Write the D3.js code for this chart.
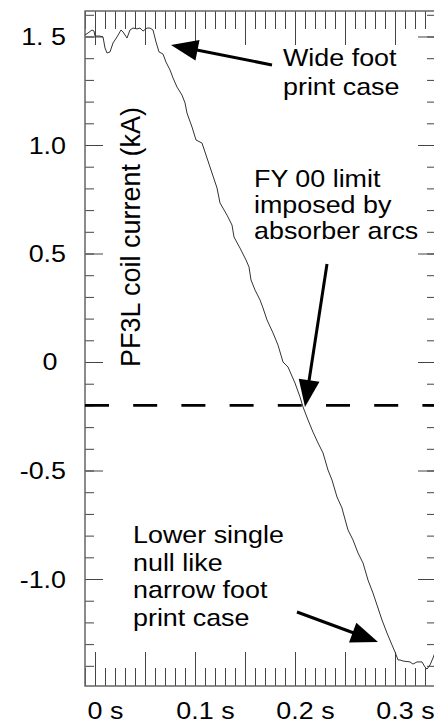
<!DOCTYPE html>
<html>
<head>
<meta charset="utf-8">
<script src="https://cdn.jsdelivr.net/npm/d3@7"></script>
<style>
body { margin: 0; background: #fff; }
text { font-family: "Liberation Sans", Arial, Helvetica, sans-serif; fill: #000; }
</style>
</head>
<body>
<div id="chart"></div>
<script>
// PF3L coil current trace (time in s, current in kA)
var timeS = [-0.010, -0.007, -0.003, -0.001, 0.000, 0.005, 0.008, 0.010, 0.012, 0.015,
    0.018, 0.022, 0.026, 0.028, 0.032, 0.035, 0.038, 0.042, 0.045, 0.048,
    0.052, 0.055, 0.058, 0.061, 0.064, 0.068, 0.071, 0.075, 0.078, 0.082,
    0.087, 0.090, 0.092, 0.097, 0.101, 0.107, 0.112, 0.117, 0.122, 0.125,
    0.132, 0.137, 0.139, 0.145, 0.151, 0.154, 0.156, 0.160, 0.165, 0.168,
    0.172, 0.178, 0.183, 0.188, 0.193, 0.200, 0.205, 0.208, 0.213, 0.218,
    0.223, 0.228, 0.233, 0.237, 0.242, 0.247, 0.248, 0.253, 0.258, 0.263,
    0.268, 0.273, 0.278, 0.282, 0.287, 0.292, 0.297, 0.300, 0.303, 0.305,
    0.308, 0.315, 0.318, 0.322, 0.327, 0.330, 0.332, 0.335, 0.338, 0.341];
var currentKA = [1.507, 1.516, 1.530, 1.525, 1.502, 1.502, 1.498, 1.447, 1.424, 1.429,
    1.470, 1.498, 1.530, 1.521, 1.493, 1.530, 1.539, 1.535, 1.539, 1.525,
    1.539, 1.539, 1.530, 1.475, 1.429, 1.419, 1.382, 1.346, 1.309, 1.267,
    1.230, 1.194, 1.147, 1.083, 1.023, 1.009, 0.940, 0.871, 0.802, 0.733,
    0.677, 0.631, 0.576, 0.525, 0.470, 0.438, 0.378, 0.332, 0.286, 0.249,
    0.194, 0.134, 0.078, 0.000, -0.023, -0.097, -0.161, -0.207, -0.267, -0.323,
    -0.373, -0.419, -0.498, -0.544, -0.622, -0.673, -0.691, -0.774, -0.820, -0.880,
    -0.926, -1.005, -1.065, -1.120, -1.189, -1.249, -1.304, -1.336, -1.373, -1.373,
    -1.378, -1.382, -1.392, -1.382, -1.382, -1.406, -1.415, -1.396, -1.364, -1.327];

var limitKA = -0.2;

var yTickValues = [1.5, 1.0, 0.5, 0, -0.5, -1.0];
var yTickLabels = ["1. 5", "1.0", "0.5", "0", "-0.5", "-1.0"];
var xTickValues = [0, 0.1, 0.2, 0.3];
var xTickLabels = ["0 s", "0.1 s", "0.2 s", "0.3 s"];

var yTitle = "PF3L coil current (kA)";
var wideNote = ["Wide foot", "print case"];
var limitNote = ["FY 00 limit", "imposed by", "absorber arcs"];
var lowerNote = ["Lower single", "null like", "narrow foot", "print case"];

var svgWidth = 434;
var svgHeight = 724;
var plot = { left: 85, top: 11, right: 436, bottom: 686 };
var stretch = 1.12;   // text in the picture is a bit wide

var svg = d3.select("#chart")
    .append("svg")
    .attr("width", svgWidth)
    .attr("height", svgHeight);

var x = d3.scaleLinear()
    .domain([-0.01, 0.341])
    .range([plot.left, plot.right]);

var y = d3.scaleLinear()
    .domain([-1.493, 1.6175])
    .range([plot.bottom, plot.top]);

var xMajor = d3.range(0, 7).map(i => i * 0.05);
var xMinor = d3.range(-1, 35).map(i => i / 100);
var yMinor = d3.range(-14, 17).map(i => i / 10);

function tickAxis(axis, values, size, tx, ty) {
    var g = svg.append("g")
        .attr("transform", `translate(${tx}, ${ty})`)
        .call(axis.tickValues(values).tickSize(size).tickSizeOuter(0).tickFormat(""));
    g.select(".domain").remove();
    g.selectAll("line").attr("stroke", "#444").attr("stroke-width", 1);
}

// ticks all point inward
tickAxis(d3.axisRight(y), yMinor, 9, plot.left, 0);
tickAxis(d3.axisRight(y), yTickValues, 18, plot.left, 0);
tickAxis(d3.axisLeft(y), yMinor, 9, plot.right, 0);
tickAxis(d3.axisLeft(y), yTickValues, 18, plot.right, 0);
tickAxis(d3.axisTop(x), xMinor, 18, 0, plot.bottom);
tickAxis(d3.axisTop(x), xMajor, 34, 0, plot.bottom);
tickAxis(d3.axisBottom(x), xMinor, 18, 0, plot.top);
tickAxis(d3.axisBottom(x), xMajor, 34, 0, plot.top);

// frame
svg.append("rect")
    .attr("x", plot.left)
    .attr("y", plot.top)
    .attr("width", plot.right - plot.left)
    .attr("height", plot.bottom - plot.top)
    .attr("fill", "none")
    .attr("stroke", "#666")
    .attr("stroke-width", 1.5);

svg.append("clipPath").attr("id", "clip")
    .append("rect")
    .attr("x", plot.left)
    .attr("y", plot.top)
    .attr("width", plot.right - plot.left)
    .attr("height", plot.bottom - plot.top);

// limit line
svg.append("line")
    .attr("x1", plot.left)
    .attr("x2", plot.right)
    .attr("y1", y(limitKA))
    .attr("y2", y(limitKA))
    .attr("stroke", "#000")
    .attr("stroke-width", 2.6)
    .attr("stroke-dasharray", "24,24.2");

// current trace
var line = d3.line()
    .x((d, i) => x(timeS[i]))
    .y(d => y(d));

svg.append("path")
    .datum(currentKA)
    .attr("clip-path", "url(#clip)")
    .attr("d", line)
    .attr("fill", "none")
    .attr("stroke", "#333")
    .attr("stroke-width", 1);

function stretchText(str, tx, ty, anchor) {
    return svg.append("text")
        .attr("transform", `translate(${tx}, ${ty}) scale(${stretch}, 1)`)
        .attr("text-anchor", anchor || "start")
        .style("font-size", "24px")
        .text(str);
}

// y tick labels
yTickValues.forEach(function(v, i) {
    if (yTickLabels[i] === "0") {
        stretchText(yTickLabels[i], 50, y(v) + 8, "middle");
    } else {
        stretchText(yTickLabels[i], 66, y(v) + 8.5, "end");
    }
});

// x tick labels, the number sits centred on its tick
xTickValues.forEach(function(v, i) {
    var t = stretchText(xTickLabels[i], 0, 0, "start");
    var n = xTickLabels[i].indexOf(" ");
    var w = t.node().getSubStringLength(0, n) * stretch;
    t.attr("transform", `translate(${x(v) - w / 2}, 719) scale(${stretch}, 1)`);
});

// y title
svg.append("text")
    .attr("transform", "translate(140, 367) rotate(-90)")
    .style("font-size", "27px")
    .text(yTitle);

// notes
wideNote.forEach((s, i) => stretchText(s, 283, 66 + i * 29));
limitNote.forEach((s, i) => stretchText(s, 254, 187 + i * 26));
lowerNote.forEach((s, i) => stretchText(s, 133, 543 + i * 27.7));

// arrows: tail and tip in data units
var arrows = [
    { from: [0.177, 1.369], to: [0.076, 1.461] },
    { from: [0.232, 0.452], to: [0.210, -0.207] },
    { from: [0.202, -1.152], to: [0.283, -1.290] }
];

arrows.forEach(function(a) {
    var x1 = x(a.from[0]), y1 = y(a.from[1]);
    var x2 = x(a.to[0]), y2 = y(a.to[1]);
    var len = Math.hypot(x2 - x1, y2 - y1);
    var ux = (x2 - x1) / len, uy = (y2 - y1) / len;
    var headLen = 27, headHalf = 10.5;
    var bx = x2 - ux * headLen, by = y2 - uy * headLen;
    svg.append("line")
        .attr("x1", x1).attr("y1", y1)
        .attr("x2", bx + ux * 2).attr("y2", by + uy * 2)
        .attr("stroke", "#000")
        .attr("stroke-width", 3);
    svg.append("polygon")
        .attr("points", [
            [x2, y2],
            [bx - uy * headHalf, by + ux * headHalf],
            [bx + uy * headHalf, by - ux * headHalf]
        ].map(p => p.join(",")).join(" "))
        .attr("fill", "#000");
});
</script>
</body>
</html>
